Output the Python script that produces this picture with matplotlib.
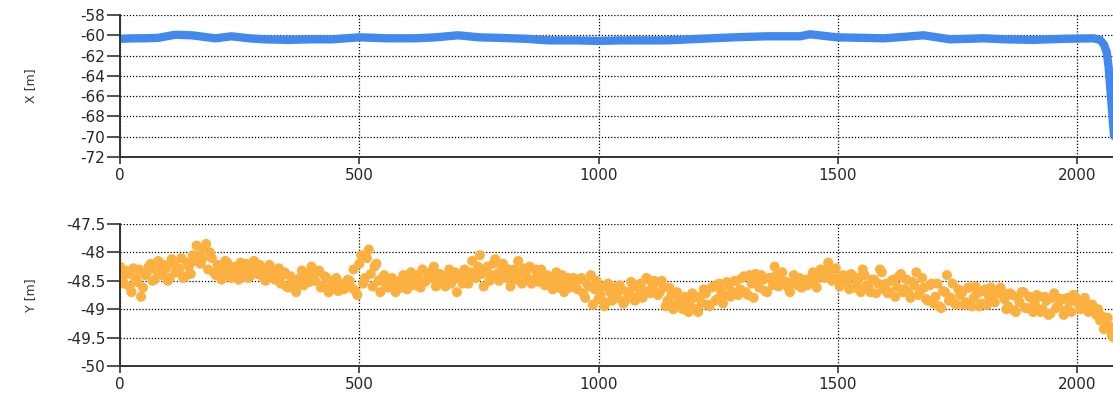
import numpy as np
import matplotlib
matplotlib.use("Agg")
import matplotlib.pyplot as plt

# ---- data -------------------------------------------------------------
# X position series (sample index, metres)
x_idx = [0, 25, 50, 80, 115, 150, 199, 233, 270, 303, 350, 400, 443, 500, 560,
         616, 660, 706, 750, 790, 850, 895, 950, 999, 1050, 1100, 1142, 1212,
         1282, 1351, 1421, 1442, 1498, 1550, 1596, 1640, 1679, 1735, 1805, 1850,
         1909, 1970, 2034, 2048, 2056, 2062, 2066, 2069, 2072, 2074, 2078, 2082]
x_val = [-60.35, -60.3, -60.3, -60.25, -59.95, -60.0, -60.3, -60.1, -60.3,
         -60.4, -60.45, -60.4, -60.4, -60.2, -60.3, -60.3, -60.2, -60.0, -60.2,
         -60.25, -60.35, -60.5, -60.5, -60.55, -60.5, -60.5, -60.5, -60.35,
         -60.2, -60.1, -60.1, -59.9, -60.2, -60.25, -60.3, -60.15, -60.0, -60.4,
         -60.3, -60.4, -60.45, -60.35, -60.3, -60.45, -60.9, -61.7, -63.2, -65.0,
         -66.8, -68.0, -70.5, -73.0]

# Y position series: two interleaved sample sets, one value every 8 samples each
y_step = 8
y_offset_b = 4
y_val_a = [
    -48.25, -48.55, -48.38, -48.70, -48.45, -48.30, -48.62, -48.35, -48.20, -48.48,
    -48.15, -48.40, -48.28, -48.45, -48.20, -48.35, -48.10, -48.42, -48.25, -48.05,
    -47.88, -48.20, -47.95, -48.30, -48.10, -48.40, -48.25, -48.35, -48.18, -48.45,
    -48.25, -48.48, -48.30, -48.20, -48.42, -48.15, -48.38, -48.28, -48.50, -48.22,
    -48.30, -48.45, -48.55, -48.35, -48.62, -48.48, -48.70, -48.45, -48.58, -48.38,
    -48.25, -48.50, -48.32, -48.58, -48.45, -48.65, -48.50, -48.68, -48.55, -48.60,
    -48.50, -48.30, -48.75, -48.05, -48.45, -47.95, -48.60, -48.20, -48.70, -48.40,
    -48.62, -48.45, -48.70, -48.50, -48.40, -48.65, -48.35, -48.58, -48.45, -48.30,
    -48.50, -48.35, -48.25, -48.55, -48.40, -48.60, -48.30, -48.48, -48.70, -48.38,
    -48.30, -48.55, -48.15, -48.45, -48.05, -48.60, -48.25, -48.40, -48.12, -48.50,
    -48.20, -48.45, -48.60, -48.30, -48.15, -48.55, -48.35, -48.25, -48.50, -48.40,
    -48.30, -48.58, -48.42, -48.65, -48.35, -48.52, -48.70, -48.45, -48.60, -48.50,
    -48.48, -48.72, -48.55, -48.40, -48.65, -48.82, -48.60, -48.88, -48.70, -48.62,
    -48.80, -48.65, -48.85, -48.72, -48.60, -48.78, -48.55, -48.68, -48.48, -48.62,
    -48.52, -48.70, -48.62, -48.85, -48.75, -48.92, -48.80, -49.00, -48.85, -48.95,
    -48.80, -49.05, -48.90, -48.72, -48.95, -48.60, -48.82, -48.68, -48.75, -48.58,
    -48.70, -48.50, -48.65, -48.42, -48.75, -48.55, -48.38, -48.62, -48.48, -48.70,
    -48.45, -48.25, -48.60, -48.35, -48.52, -48.70, -48.40, -48.58, -48.62, -48.48,
    -48.55, -48.35, -48.62, -48.30, -48.45, -48.18, -48.50, -48.28, -48.60, -48.40,
    -48.50, -48.38, -48.62, -48.45, -48.30, -48.58, -48.70, -48.48, -48.55, -48.35,
    -48.55, -48.70, -48.48, -48.60, -48.38, -48.65, -48.72, -48.52, -48.35, -48.68,
    -48.62, -48.85, -48.55, -48.78, -48.95, -48.68, -48.40, -48.80, -48.90, -48.65,
    -48.70, -48.88, -48.62, -48.80, -48.72, -48.90, -48.65, -48.78, -48.85, -48.70,
    -48.62, -48.82, -48.95, -48.75, -49.05, -48.88, -48.70, -48.98, -48.80, -48.92,
    -48.78, -49.00, -48.85, -49.08, -48.72, -48.95, -48.82, -49.02, -48.88, -48.75,
    -48.85, -49.00, -48.80, -49.05, -48.92, -49.10, -49.20, -49.35, -49.15, -49.45,
]
y_val_b = [
    -48.45, -48.32, -48.60, -48.28, -48.52, -48.78, -48.40, -48.25, -48.50, -48.32,
    -48.30, -48.22, -48.50, -48.12, -48.35, -48.28, -48.45, -48.18, -48.38, -48.15,
    -48.05, -48.12, -47.85, -48.00, -48.35, -48.22, -48.48, -48.15, -48.30, -48.28,
    -48.40, -48.18, -48.35, -48.45, -48.28, -48.30, -48.22, -48.45, -48.32, -48.38,
    -48.48, -48.28, -48.40, -48.60, -48.42, -48.55, -48.58, -48.32, -48.45, -48.52,
    -48.40, -48.35, -48.62, -48.42, -48.70, -48.55, -48.45, -48.58, -48.65, -48.48,
    -48.62, -48.68, -48.20, -48.55, -48.10, -48.38, -48.25, -48.50, -48.45, -48.60,
    -48.48, -48.58, -48.55, -48.62, -48.52, -48.42, -48.55, -48.40, -48.62, -48.52,
    -48.40, -48.45, -48.60, -48.38, -48.52, -48.42, -48.55, -48.35, -48.45, -48.55,
    -48.42, -48.35, -48.40, -48.25, -48.38, -48.30, -48.50, -48.20, -48.38, -48.32,
    -48.35, -48.30, -48.42, -48.48, -48.38, -48.28, -48.45, -48.55, -48.30, -48.52,
    -48.45, -48.40, -48.55, -48.48, -48.62, -48.40, -48.55, -48.62, -48.45, -48.65,
    -48.45, -48.80, -48.60, -48.92, -48.50, -48.75, -48.95, -48.55, -48.85, -48.72,
    -48.58, -48.90, -48.70, -48.52, -48.85, -48.62, -48.80, -48.45, -48.72, -48.50,
    -48.75, -48.50, -48.95, -48.62, -49.00, -48.70, -48.95, -48.78, -49.05, -48.72,
    -49.00, -48.78, -48.65, -48.92, -48.62, -48.85, -48.55, -48.90, -48.52, -48.78,
    -48.50, -48.75, -48.45, -48.70, -48.40, -48.80, -48.52, -48.40, -48.68, -48.45,
    -48.58, -48.40, -48.48, -48.55, -48.62, -48.55, -48.50, -48.45, -48.52, -48.58,
    -48.45, -48.50, -48.42, -48.38, -48.30, -48.35, -48.42, -48.48, -48.45, -48.52,
    -48.65, -48.42, -48.58, -48.70, -48.40, -48.62, -48.48, -48.72, -48.30, -48.65,
    -48.72, -48.50, -48.78, -48.42, -48.70, -48.48, -48.80, -48.58, -48.75, -48.45,
    -48.82, -48.58, -48.90, -48.55, -48.98, -48.70, -48.85, -48.55, -48.92, -48.75,
    -48.92, -48.62, -48.95, -48.60, -48.95, -48.68, -48.92, -48.62, -48.88, -48.72,
    -48.70, -49.00, -48.72, -49.02, -48.80, -48.70, -48.98, -48.78, -49.05, -48.75,
    -49.05, -48.78, -49.10, -48.80, -48.98, -48.82, -49.10, -48.80, -49.05, -48.78,
    -48.92, -48.95, -48.98, -48.92, -49.02, -49.00, -49.12, -49.25, -49.30, -49.50,
]

x_ticks = [0, 500, 1000, 1500, 2000]
top_yticks = [-72, -70, -68, -66, -64, -62, -60, -58]
bot_yticks = [-50, -49.5, -49, -48.5, -48, -47.5]
bot_yticklabels = ["-50", "-49.5", "-49", "-48.5", "-48", "-47.5"]

# ---- figure -----------------------------------------------------------
plt.rcParams['font.family'] = ['DejaVu Sans']
W, H = 1113, 393
fig = plt.figure(figsize=(W / 100, H / 100), dpi=100)

left = 120 / W
width = 1 - left
ax1 = fig.add_axes([left, 1 - 157 / H, width, 142 / H])
ax2 = fig.add_axes([left, 1 - 366 / H, width, 142 / H])

blue = "#4189ED"
orange = "#FBB040"
tc = "#262626"

ax1.plot(x_idx, x_val, color=blue, lw=6.0, solid_capstyle="round",
         solid_joinstyle="round", zorder=3)
y_idx_a = np.arange(len(y_val_a)) * y_step
y_idx_b = np.arange(len(y_val_b)) * y_step + y_offset_b
ax2.scatter(y_idx_a, y_val_a, s=52, color=orange, edgecolors="none", zorder=3)
ax2.scatter(y_idx_b, y_val_b, s=52, color=orange, edgecolors="none", zorder=3)

for ax, yt, ylim in ((ax1, top_yticks, (-72, -58)), (ax2, bot_yticks, (-50, -47.5))):
    ax.set_xlim(0, 2075)
    ax.set_ylim(*ylim)
    ax.set_xticks(x_ticks)
    ax.set_yticks(yt)
    ax.grid(True, color="black", linestyle=(0, (1, 1.5)), linewidth=0.9, zorder=1)
    ax.set_axisbelow(True)
    for s in ("top", "right"):
        ax.spines[s].set_visible(False)
    for s in ("left", "bottom"):
        ax.spines[s].set_color("#333333")
        ax.spines[s].set_linewidth(1.4)
        ax.spines[s].set_zorder(4)
    ax.tick_params(axis="y", length=9.5, width=1.2, pad=1, labelsize=11, colors="#333333",
                   labelcolor=tc)
    ax.tick_params(axis="x", length=5, width=1.2, pad=3, labelsize=11, colors="#333333",
                   labelcolor=tc)

ax1.set_yticklabels([str(v) for v in top_yticks])
ax2.set_yticklabels(bot_yticklabels)

fig.text(31 / W, 1 - 86 / H, "X [m]", rotation=90, ha="center", va="center",
         fontsize=9, color="#333333")
fig.text(31 / W, 1 - 295 / H, "Y [m]", rotation=90, ha="center", va="center",
         fontsize=9, color="#333333")

fig.savefig("out.png", dpi=100)
